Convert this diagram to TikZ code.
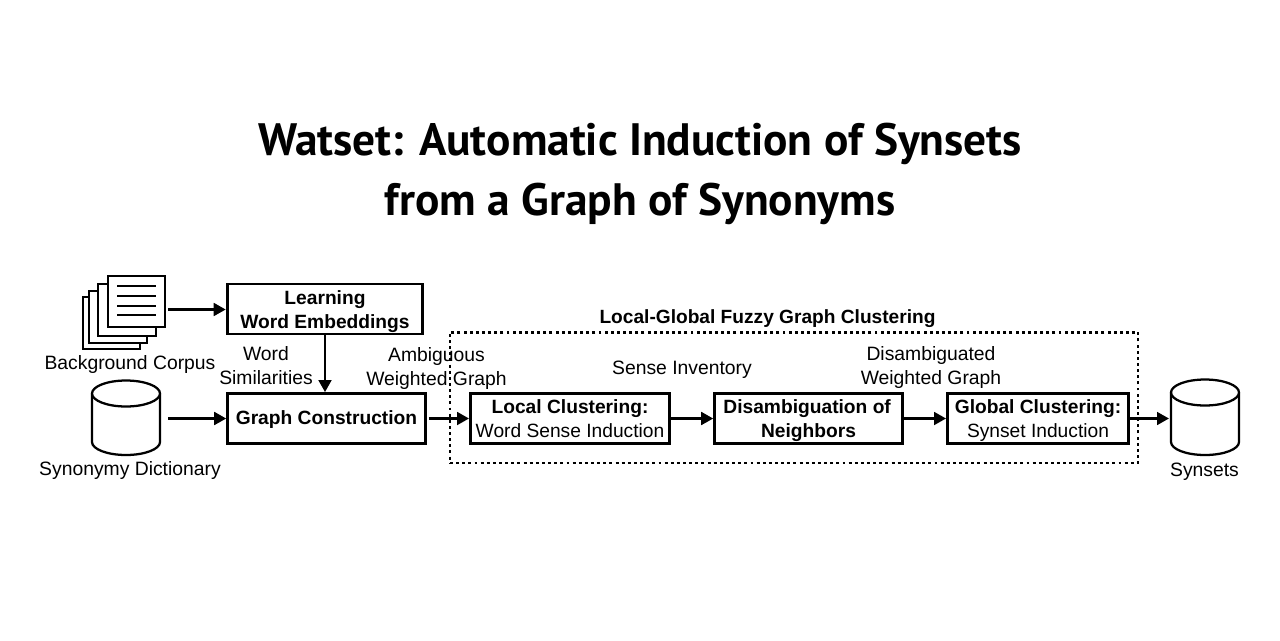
\documentclass[tikz,border=0pt]{standalone}
\usepackage{fontspec}
\setmainfont{Liberation Sans}
\newfontfamily\titlefont{PT Sans}
\usetikzlibrary{arrows.meta}
\newcommand\liftby[1]{\rule{0pt}{#1}}
\tikzset{
  x=0.75pt,y=-0.75pt,
  stepbox/.style={draw,line width=2.1pt,fill=white,inner sep=0pt,align=center,font=\fontsize{14.4}{18}\selectfont,minimum height=37.5pt},
  lab/.style={inner sep=0pt,align=center,font=\fontsize{14.5}{18}\selectfont},
  conn/.style={line width=2pt,-{Triangle[length=9pt,width=9.5pt]}},
  icon/.style={draw,line width=1.7pt,fill=white}
}
\begin{document}
\begin{tikzpicture}
\useasboundingbox (0,0) rectangle (1280,640);
\node[inner sep=0pt,align=center,font=\titlefont\bfseries\fontsize{34.05}{44.5}\selectfont] (title) at (640,174) {Watset: Automatic Induction of Synsets\\from a Graph of Synonyms};

% dotted frame
\node[draw,line width=2.2pt,dash pattern=on 2.2pt off 2.4pt,minimum width=516pt,minimum height=98.2pt,inner sep=0pt] (frame) at (794,397.5) {};
\node[inner sep=0pt,font=\bfseries\fontsize{14.35}{18}\selectfont] (frametitle) at (767.5,319) {Local-Global Fuzzy Graph Clustering};

% document stack
\draw[icon] (83,297) rectangle (140,349);
\draw[icon] (89,291) rectangle (147,343);
\draw[icon] (98,284) rectangle (156,336);
\draw[icon] (108,276) rectangle (165,327);
\foreach \yy in {286,296,306,315}{\draw[line width=1.5pt] (117,\yy) -- (156,\yy);}
\coordinate (corpus) at (168,309.5);
\node[lab] (corpuslab) at (130,364) {Background Corpus};

% dictionary cylinder
\draw[icon] (92,393.5) -- (92,442) arc[start angle=180,end angle=0,x radius=34,y radius=13] -- (160,393.5);
\draw[icon] (126,393.5) ellipse[x radius=34,y radius=13];
\coordinate (dict) at (168,418.5);
\node[lab] (dictlab) at (130,470) {Synonymy Dictionary};

% synsets cylinder
\draw[icon] (1171,392.5) -- (1171,442) arc[start angle=180,end angle=0,x radius=34,y radius=13] -- (1239,392.5);
\draw[icon] (1205,392.5) ellipse[x radius=34,y radius=13];
\coordinate (syn) at (1169,418.5);
\node[lab] (synlab) at (1204.5,471.5) {Synsets};

% boxes
\node[stepbox,minimum width=146.8pt] (learn) at (325,309) {\liftby{14pt}\textbf{Learning}\\\textbf{Word Embeddings}};
\node[stepbox,minimum width=148.3pt] (graph) at (326.5,418.5) {\liftby{12.5pt}\textbf{Graph Construction}};
\node[stepbox,minimum width=149.3pt] (local) at (570,418.5) {\textbf{Local Clustering:}\\Word Sense Induction};
\node[stepbox,minimum width=140.8pt] (disamb) at (808.5,418.5) {\liftby{14pt}\hspace*{-2pt}\textbf{Disambiguation of}\\\textbf{Neighbors}};
\node[stepbox,minimum width=135.8pt] (global) at (1038,418.5) {\liftby{14pt}\textbf{Global Clustering:}\\Synset Induction};

% labels
\node[lab] (l1) at (266,366) {Word\\Similarities};
\node[lab] (l2) at (436.5,368) {Ambiguous\\Weighted Graph};
\node[lab] (l3) at (682,369.5) {Sense Inventory};
\node[lab] (l4) at (931,367.5) {Disambiguated\\Weighted Graph};

% connectors
\draw[conn] (corpus) -- (corpus -| learn.west);
\draw[conn] (dict) -- (dict -| graph.west);
\draw[conn] (learn.south) -- (learn.south |- graph.north);
\draw[conn,shorten <=1.5pt] (graph) -- (local);
\draw[conn] (local) -- (disamb);
\draw[conn] (disamb) -- (global);
\draw[conn] (global) -- (syn);
\end{tikzpicture}
\end{document}
